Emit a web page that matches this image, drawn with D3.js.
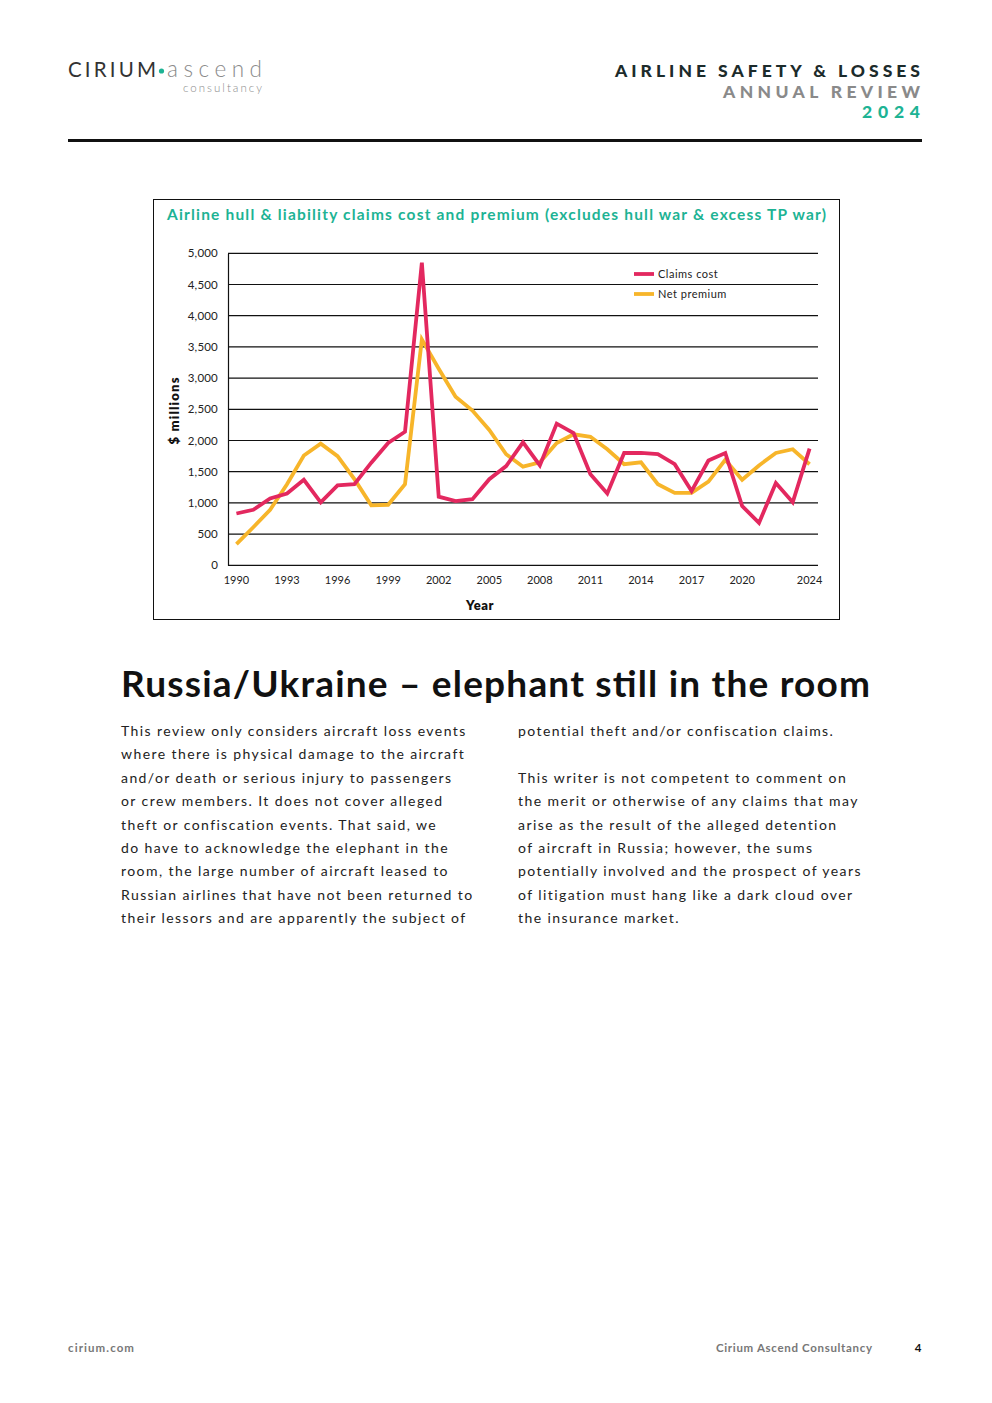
<!DOCTYPE html>
<html><head><meta charset="utf-8">
<script src="https://cdn.jsdelivr.net/npm/d3@7"></script>
<style>
html,body{margin:0;padding:0;background:#fff;}
svg{display:block;}
</style></head>
<body>
<script>
// ---------- DATA ----------
const years = d3.range(1990, 2025);
const claimsCost = [830, 890, 1070, 1150, 1370, 1010, 1280, 1300, 1645, 1960, 2140, 4850,
  1100, 1030, 1060, 1380, 1590, 1970, 1600, 2270, 2120, 1460, 1150, 1800, 1800, 1780,
  1620, 1190, 1680, 1800, 950, 680, 1320, 1010, 1870];
const netPremium = [340, 610, 890, 1300, 1760, 1950, 1750, 1380, 960, 970, 1300, 3620,
  3150, 2700, 2480, 2170, 1780, 1580, 1650, 1960, 2100, 2060, 1860, 1620, 1650, 1300,
  1160, 1160, 1340, 1690, 1370, 1600, 1800, 1860, 1620];
const xTickYears = [1990, 1993, 1996, 1999, 2002, 2005, 2008, 2011, 2014, 2017, 2020, 2024];
const yTicks = [0, 500, 1000, 1500, 2000, 2500, 3000, 3500, 4000, 4500, 5000];
const seriesNames = ["Claims cost", "Net premium"];
const seriesColors = ["#e3285f", "#f7b52a"];
const chartTitle = "Airline hull & liability claims cost and premium (excludes hull war & excess TP war)";
const col1 = ["This review only considers aircraft loss events",
  "where there is physical damage to the aircraft",
  "and/or death or serious injury to passengers",
  "or crew members. It does not cover alleged",
  "theft or confiscation events. That said, we",
  "do have to acknowledge the elephant in the",
  "room, the large number of aircraft leased to",
  "Russian airlines that have not been returned to",
  "their lessors and are apparently the subject of"];
const col2 = ["potential theft and/or confiscation claims.",
  "",
  "This writer is not competent to comment on",
  "the merit or otherwise of any claims that may",
  "arise as the result of the alleged detention",
  "of aircraft in Russia; however, the sums",
  "potentially involved and the prospect of years",
  "of litigation must hang like a dark cloud over",
  "the insurance market."];

// ---------- PAGE ----------
const W = 992, H = 1403;
const font = "Lato, 'Open Sans', sans-serif";
const svg = d3.select("body").append("svg").attr("width", W).attr("height", H)
  .style("font-family", font);

function txt(x, y, s, opts = {}) {
  const t = svg.append("text").attr("x", x).attr("y", y).text(s)
    .style("font-size", (opts.size || 12) + "px")
    .style("font-weight", opts.weight || 400)
    .attr("fill", opts.fill || "#222");
  if (opts.anchor) t.attr("text-anchor", opts.anchor);
  if (opts.len) t.attr("textLength", opts.len).attr("lengthAdjust", "spacing");
  if (opts.ls) t.style("letter-spacing", opts.ls + "px");
  return t;
}

// Header logo
txt(68, 77, "CIRIUM", {size: 20.5, weight: 400, fill: "#333", len: 88});
svg.append("circle").attr("cx", 161.5).attr("cy", 71).attr("r", 2.6).attr("fill", "#1db394");
txt(167, 77, "ascend", {size: 22.5, weight: 300, fill: "#8a8a8a", len: 95});
txt(262, 92, "consultancy", {size: 11.5, weight: 300, fill: "#8a8a8a", anchor: "end", len: 79});

// Header right
txt(920, 77, "AIRLINE SAFETY & LOSSES", {size: 17.5, weight: 900, fill: "#1c2b2b", anchor: "end", len: 305});
txt(920, 98, "ANNUAL REVIEW", {size: 17.5, weight: 900, fill: "#8a8a8a", anchor: "end", len: 197});
txt(920, 118, "2024", {size: 17.5, weight: 900, fill: "#1db394", anchor: "end", len: 58});
svg.append("rect").attr("x", 68).attr("y", 139).attr("width", 854).attr("height", 3).attr("fill", "#111");

// Chart box
svg.append("rect").attr("x", 153.5).attr("y", 199.5).attr("width", 686).attr("height", 420)
  .attr("fill", "none").attr("stroke", "#111").attr("stroke-width", 1);
txt(167, 220, chartTitle, {size: 15.5, weight: 700, fill: "#1db394", len: 659});

const plot = {l: 228, r: 818, t: 253.3, b: 565.3};
const x = d3.scaleBand().domain(years).range([plot.l, plot.r]);
const y = d3.scaleLinear().domain([0, 5000]).range([plot.b, plot.t]);
const cx = d => x(d) + x.bandwidth() / 2;

const g = svg.append("g");
// grid
g.append("g").selectAll("line").data(yTicks).join("line")
  .attr("x1", plot.l).attr("x2", plot.r).attr("y1", d => y(d)).attr("y2", d => y(d))
  .attr("stroke", "#111").attr("stroke-width", 1.2);
// y axis
const yAx = g.append("g").attr("transform", `translate(${plot.l},0)`)
  .call(d3.axisLeft(y).tickValues(yTicks).tickSize(0).tickPadding(10).tickFormat(d3.format(",")));
yAx.select(".domain").attr("stroke", "#111").attr("stroke-width", 1.2);
yAx.selectAll("text").style("font-size", "11.5px").style("font-family", font).attr("fill", "#222")
  .style("letter-spacing", "0.2px");
// x axis
const xAx = g.append("g").attr("transform", `translate(0,${plot.b})`)
  .call(d3.axisBottom(x).tickValues(xTickYears).tickSize(0).tickPadding(11));
xAx.select(".domain").remove();
xAx.selectAll("text").style("font-size", "11px").style("font-family", font).attr("fill", "#222");

txt(480, 610, "Year", {size: 13, weight: 800, anchor: "middle", fill: "#111", ls: 0.5});
svg.append("text").attr("transform", "translate(179,411) rotate(-90)").attr("text-anchor", "middle")
  .style("font-size", "13px").style("font-weight", 800).attr("fill", "#111")
  .attr("textLength", 67).attr("lengthAdjust", "spacing").text("$ millions");

// lines
const line = d3.line().x((d, i) => cx(years[i])).y(d => y(d));
[netPremium, claimsCost].forEach((s, k) => {
  const idx = 1 - k;
  g.append("path").datum(s).attr("d", line).attr("fill", "none")
    .attr("stroke", seriesColors[idx]).attr("stroke-width", 3.8).attr("stroke-linejoin", "miter");
});
// legend
seriesNames.forEach((n, i) => {
  const ly = 274 + i * 20;
  svg.append("line").attr("x1", 634).attr("x2", 654).attr("y1", ly).attr("y2", ly)
    .attr("stroke", seriesColors[i]).attr("stroke-width", 3.8);
  txt(658, ly + 4, n, {size: 11, fill: "#222", ls: 0.5});
});

// Heading
txt(121, 697, "Russia/Ukraine – elephant still in the room", {size: 37, weight: 700, fill: "#111", len: 749});

// Body columns
[[col1, 121], [col2, 518]].forEach(([lines, x0]) => {
  lines.forEach((t, i) => txt(x0, 736 + i * 23.4, t, {size: 14, fill: "#222", ls: 1.42}));
});

// Footer
txt(68, 1352, "cirium.com", {size: 11.5, weight: 700, fill: "#777", len: 66});
txt(872, 1352, "Cirium Ascend Consultancy", {size: 11.5, weight: 700, fill: "#777", anchor: "end", len: 156});
txt(918, 1352, "4", {size: 11.5, weight: 700, fill: "#111", anchor: "middle"});
</script>
</body></html>
